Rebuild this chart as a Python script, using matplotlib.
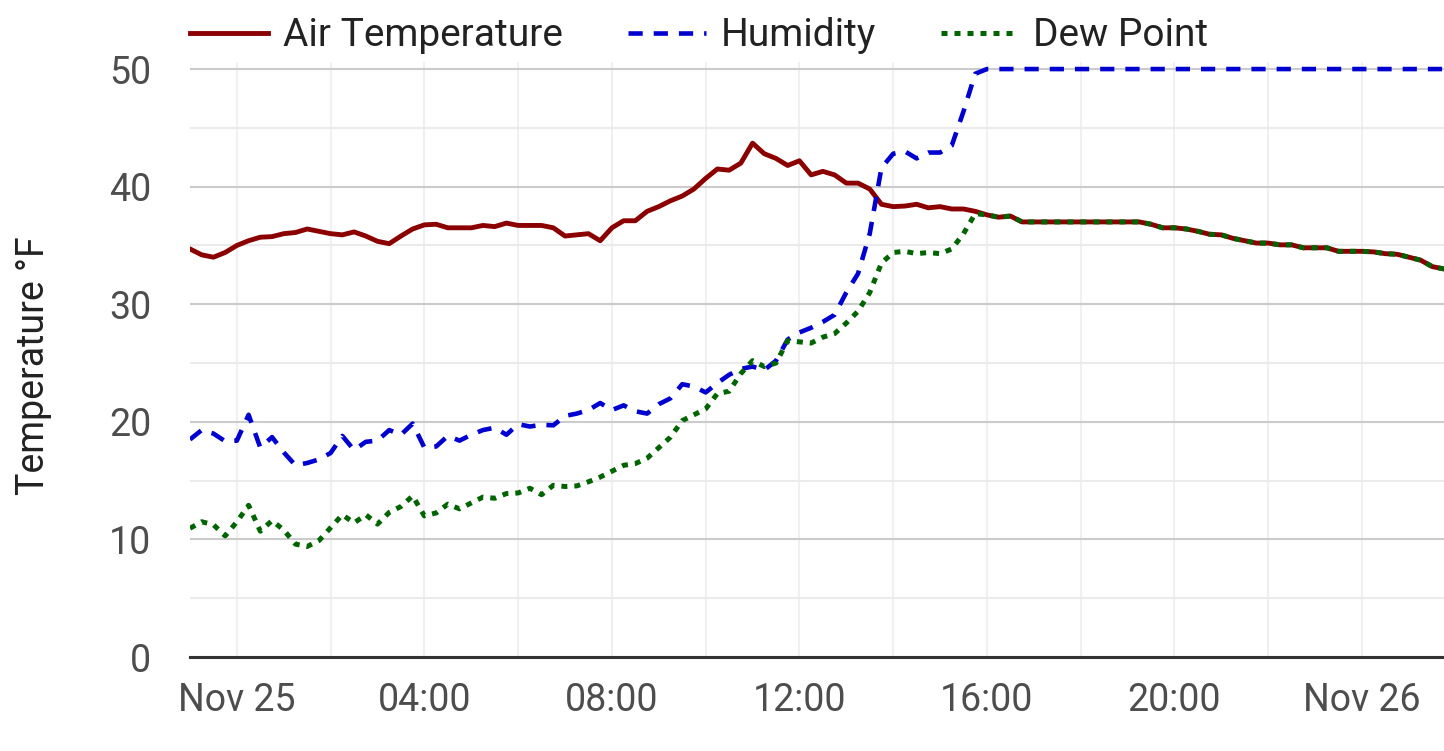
import matplotlib
matplotlib.use("Agg")
import matplotlib.pyplot as plt
import matplotlib.dates as mdates
from matplotlib.ticker import MultipleLocator, FuncFormatter
import pandas as pd

# readings every 15 minutes, starting Nov 24 23:00
air_temp = [34.7, 34.2, 34.0, 34.4, 35.0, 35.4, 35.7, 35.75,
            36.0, 36.1, 36.4, 36.2, 36.0, 35.9, 36.15, 35.8,
            35.35, 35.15, 35.8, 36.4, 36.75, 36.8, 36.5, 36.5,
            36.5, 36.7, 36.6, 36.9, 36.7, 36.7, 36.7, 36.5,
            35.8, 35.9, 36.0, 35.4, 36.5, 37.1, 37.1, 37.9,
            38.3, 38.8, 39.2, 39.8, 40.7, 41.5, 41.4, 42.0,
            43.7, 42.8, 42.4, 41.8, 42.2, 41.0, 41.3, 41.0,
            40.3, 40.3, 39.8, 38.5, 38.3, 38.35, 38.5, 38.2,
            38.3, 38.1, 38.1, 37.9, 37.6, 37.4, 37.5, 37.0,
            37.0, 37.0, 37.0, 37.0, 37.0, 37.0, 37.0, 37.0,
            37.0, 37.0, 36.8, 36.5, 36.5, 36.4, 36.2, 35.95,
            35.9, 35.6, 35.4, 35.2, 35.2, 35.05, 35.05, 34.8,
            34.8, 34.8, 34.5, 34.5, 34.5, 34.45, 34.3, 34.25,
            34.0, 33.75, 33.2, 33.0]

humidity = [18.5, 19.3, 19.0, 18.35, 18.4, 20.6, 17.8, 18.7,
            17.4, 16.3, 16.5, 16.8, 17.35, 18.8, 17.6, 18.3,
            18.4, 19.3, 18.9, 19.85, 17.8, 17.9, 18.8, 18.4,
            18.9, 19.3, 19.5, 18.9, 19.8, 19.6, 19.75, 19.7,
            20.5, 20.7, 21.0, 21.6, 21.0, 21.4, 20.9, 20.7,
            21.5, 22.0, 23.2, 23.0, 22.5, 23.3, 24.0, 24.5,
            24.7, 24.4, 25.2, 27.0, 27.6, 28.0, 28.5, 29.1,
            31.0, 32.6, 36.0, 41.6, 42.8, 43.0, 42.4, 42.9,
            42.9, 43.5, 46.4, 49.6, 50, 50, 50, 50,
            50, 50, 50, 50, 50, 50, 50, 50,
            50, 50, 50, 50, 50, 50, 50, 50,
            50, 50, 50, 50, 50, 50, 50, 50,
            50, 50, 50, 50, 50, 50, 50, 50,
            50, 50, 50, 50]

dew_point_early = [10.95, 11.5, 11.25, 10.3, 11.5, 12.9, 10.7, 11.6,
                   10.8, 9.6, 9.4, 9.9, 11.0, 12.1, 11.4, 12.1,
                   11.3, 12.3, 12.8, 13.7, 12.0, 12.25, 13.0, 12.6,
                   13.1, 13.6, 13.5, 13.9, 13.95, 14.35, 13.8, 14.6,
                   14.5, 14.55, 14.9, 15.3, 15.8, 16.3, 16.45, 16.9,
                   17.8, 18.7, 20.1, 20.6, 21.1, 22.4, 22.6, 24.1,
                   25.2, 24.7, 25.0, 26.9, 26.8, 26.7, 27.2, 27.5,
                   28.4, 29.4, 31.0, 33.5, 34.4, 34.5, 34.3, 34.4,
                   34.3, 34.7, 36.0, 37.7]
# from 16:00 on the air is saturated: dew point reads the same as air temp
dew_point = dew_point_early + air_temp[len(dew_point_early):]

times = pd.date_range("2024-11-24 23:00", periods=len(air_temp), freq="15min")

plt.rcParams['font.family'] = ['Roboto', 'DejaVu Sans']

fig = plt.figure(figsize=(14.44, 7.51), dpi=100)
ax = fig.add_axes([190 / 1444, 1 - 657 / 751, 1 - 190 / 1444, (657 - 62) / 751])

ax.plot(times, air_temp, color='#8b0000', lw=3.5, label='Air Temperature')
ax.plot(times, humidity, color='#0000d0', lw=3.3, dashes=(3.1, 2.4),
        label='Humidity')
ax.plot(times, dew_point, color='#006400', lw=3.6, dashes=(1.2, 1.4),
        label='Dew Point')

ax.set_xlim(times[0], times[-1])
ax.set_ylim(0, 50.6)

ax.yaxis.set_major_locator(MultipleLocator(10))
ax.yaxis.set_minor_locator(MultipleLocator(5))
ax.xaxis.set_major_locator(mdates.HourLocator(byhour=range(0, 24, 4)))
ax.xaxis.set_minor_locator(mdates.HourLocator(byhour=range(0, 24, 2)))


def time_label(x, pos):
    d = mdates.num2date(x)
    if d.hour == 0:
        return d.strftime('%b %d')
    return d.strftime('%H:%M')


ax.xaxis.set_major_formatter(FuncFormatter(time_label))

ax.set_axisbelow(True)
ax.grid(which='major', axis='y', color='#cbcbcb', lw=1.5)
ax.grid(which='minor', axis='y', color='#ebebeb', lw=1.5)
ax.grid(which='both', axis='x', color='#f0f0f0', lw=1.5)

for side in ['top', 'right', 'left']:
    ax.spines[side].set_visible(False)
ax.spines['bottom'].set_color('#333333')
ax.spines['bottom'].set_linewidth(2.2)

ax.tick_params(which='both', length=0)
ax.tick_params(axis='x', pad=18, labelsize=27, labelcolor='#4d4d4d')
ax.tick_params(axis='y', pad=28, labelsize=27, labelcolor='#4d4d4d')

ax.set_ylabel('Temperature °F', fontsize=27, color='#222222')
ax.yaxis.set_label_coords(-0.110, 0.49)

fig.legend(loc='center left', bbox_to_anchor=(190 / 1444, 1 - 36 / 751),
           ncol=3, frameon=False, fontsize=28, handlelength=2.0,
           handletextpad=0.38, columnspacing=1.68, borderpad=0,
           borderaxespad=0, labelcolor='#222222')

fig.savefig('out.png', dpi=100)
